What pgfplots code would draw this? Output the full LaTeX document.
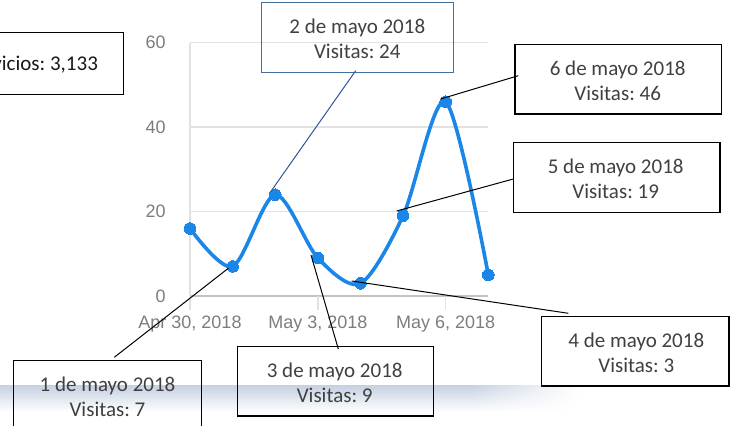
\documentclass[border=0pt]{standalone}
\usepackage{pgfplots}
\pgfplotsset{compat=1.18}
\usepackage{fontspec}
\setmainfont{Carlito}
\newfontfamily\arialfont{Liberation Sans}
\usetikzlibrary{fadings}
\definecolor{lineblue}{RGB}{26,135,232}
\definecolor{tickgray}{RGB}{125,125,125}
\definecolor{gridgray}{RGB}{226,226,226}
\definecolor{basegray}{RGB}{195,195,195}
\definecolor{boxtext}{RGB}{64,64,64}
\definecolor{boxblue}{RGB}{65,113,156}
\definecolor{linkblue}{RGB}{47,85,151}
\definecolor{band}{RGB}{200,210,226}
\begin{document}
\frenchspacing
\begin{tikzpicture}[x=0.5pt,y=0.5pt]
\useasboundingbox (0,0) rectangle (732,426);
\clip (0,0) rectangle (732,426);
% bottom band
\shade[top color=band, bottom color=white] (0,14) rectangle (470,40);
\shade[top color=band, bottom color=white, path fading=east] (470,14) rectangle (580,40);
\begin{axis}[
  at={(95pt,65pt)}, anchor=south west, scale only axis,
  width=149.15pt, height=126.65pt,
  xmin=0, xmax=7, ymin=0, ymax=60,
  axis line style={draw=none},
  ytick={20,40,60}, extra y ticks={0},
  extra y tick style={grid style={basegray, line width=0.7pt}},
  ymajorgrids, grid style={gridgray, line width=0.7pt},
  xtick={0,3,6},
  xticklabels={{Apr 30, 2018},{May 3, 2018},{May 6, 2018}},
  major tick length=0pt,
  /pgf/number format/assume math mode=true,
  ticklabel style={font=\arialfont\fontsize{9}{10}\selectfont, text=tickgray},
  yticklabel style={xshift=-8.7pt},
  xticklabel style={yshift=-6.6pt},
  clip=false,
]
\draw[gridgray, line width=0.7pt] (axis cs:0,60) -- (axis cs:0,0) -- ++(0,-7pt);
\draw[gridgray, line width=0.7pt] (axis cs:3,0) -- ++(0,-7pt);
\draw[gridgray, line width=0.7pt] (axis cs:6,0) -- ++(0,-7pt);
\addplot[lineblue, line width=1.8pt, smooth, mark=*, mark size=2.9pt,
  mark options={fill=lineblue, draw=lineblue, line width=0pt}]
  coordinates {(0,16) (1,7) (2,24) (3,9) (4,3) (5,19) (6,46) (7,5)};
\end{axis}
\tikzset{box/.style={draw=black, line width=0.55pt}, lbl/.style={anchor=base, inner sep=0pt, text=boxtext, font=\fontsize{10.5}{12}\selectfont}}
% Servicios
\draw[box] (-150,331.7) rectangle (123.7,393.7);
\node[anchor=base east, inner sep=0pt, text=black!90, font=\fontsize{10.5}{12}\selectfont] at (98.3,355) {Servicios: 3,133};
% 2 de mayo
\draw[boxblue, line width=0.55pt] (261.7,353.7) rectangle (453.3,423.3);
\node[lbl] at (357.3,392.7) {2 de mayo 2018};
\node[lbl] at (357.3,367.7) {Visitas: 24};
\draw[linkblue, line width=0.5pt] (355.7,355.3) -- (270.7,234.3);
% 6 de mayo
\draw[box] (515,312) rectangle (721.7,381.7);
\node[lbl] at (617.7,350.3) {6 de mayo 2018};
\node[lbl] at (617.7,325) {Visitas: 46};
\draw[black, line width=0.5pt] (518.3,350.3) -- (440.7,327);
% 5 de mayo
\draw[box] (513.3,213.7) rectangle (720,283.7);
\node[lbl] at (615.7,252.7) {5 de mayo 2018};
\node[lbl] at (615.7,227.7) {Visitas: 19};
\draw[black, line width=0.5pt] (513.3,247) -- (396.7,215);
% 4 de mayo
\draw[box] (541.7,40) rectangle (729,109.3);
\node[lbl] at (636.3,78.7) {4 de mayo 2018};
\node[lbl] at (636.3,53.3) {Visitas: 3};
\draw[black, line width=0.5pt] (568.3,112.7) -- (351.7,145);
% 3 de mayo
\draw[box] (237.3,10) rectangle (433.3,79.3);
\node[lbl] at (334.7,48.7) {3 de mayo 2018};
\node[lbl] at (334.7,23.7) {Visitas: 9};
\draw[black, line width=0.5pt] (338.3,77) -- (311,171);
% 1 de mayo
\draw[box] (13.3,-10) rectangle (201.7,65.3);
\node[lbl] at (107.5,34.3) {1 de mayo 2018};
\node[lbl] at (107.5,9.3) {Visitas: 7};
\draw[black, line width=0.5pt] (114.3,68.7) -- (228.3,157.7);
\end{tikzpicture}
\end{document}
